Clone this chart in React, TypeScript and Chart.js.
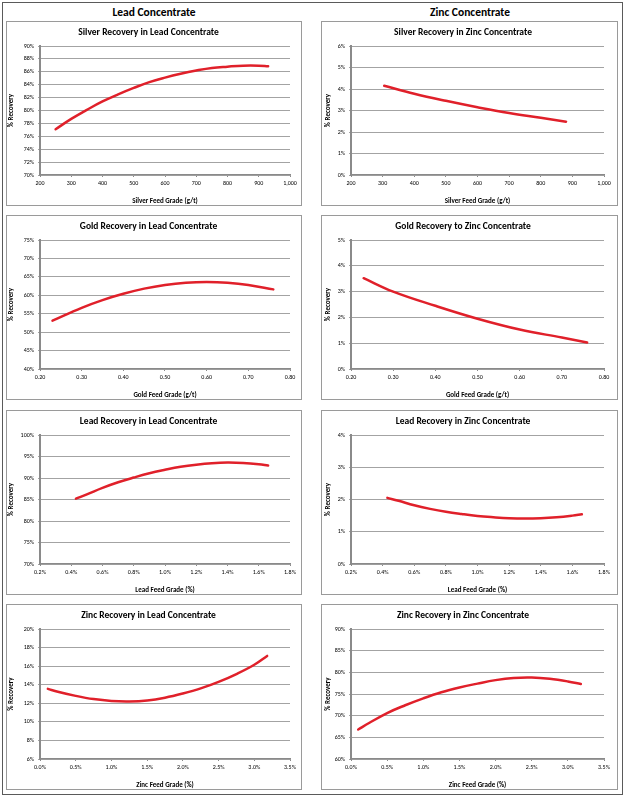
import React, { useEffect, useRef } from "react";
import { Chart, registerables } from "chart.js";

Chart.register(...registerables);

// ---------- data ----------
const silverLeadX = [250, 300, 350, 400, 450, 500, 550, 600, 650, 700, 750, 800, 850, 900, 930];
const silverLeadY = [77.1, 78.7, 80.1, 81.4, 82.5, 83.5, 84.4, 85.1, 85.7, 86.2, 86.6, 86.8, 86.95, 86.95, 86.85];

const silverZincX = [305, 400, 500, 600, 700, 800, 880];
const silverZincY = [4.15, 3.78, 3.45, 3.15, 2.88, 2.66, 2.48];

const goldLeadX = [0.23, 0.3, 0.35, 0.4, 0.45, 0.5, 0.55, 0.6, 0.65, 0.7, 0.76];
const goldLeadY = [53.1, 56.6, 58.7, 60.4, 61.8, 62.8, 63.4, 63.6, 63.4, 62.8, 61.6];

const goldZincX = [0.23, 0.3, 0.4, 0.5, 0.6, 0.7, 0.76];
const goldZincY = [3.52, 3.0, 2.45, 1.95, 1.53, 1.22, 1.03];

const leadLeadX = [0.43, 0.5, 0.6, 0.7, 0.8, 0.9, 1.0, 1.1, 1.2, 1.3, 1.4, 1.5, 1.6, 1.66];
const leadLeadY = [85.2, 86.2, 87.7, 89.0, 90.1, 91.1, 91.9, 92.6, 93.1, 93.45, 93.6, 93.5, 93.2, 92.9];

const leadZincX = [0.43, 0.5, 0.6, 0.7, 0.8, 0.9, 1.0, 1.1, 1.2, 1.3, 1.4, 1.5, 1.6, 1.66];
const leadZincY = [2.05, 1.96, 1.82, 1.71, 1.62, 1.55, 1.49, 1.45, 1.42, 1.41, 1.42, 1.45, 1.5, 1.54];

const zincLeadX = [0.11, 0.25, 0.5, 0.75, 1.0, 1.25, 1.5, 1.75, 2.0, 2.25, 2.5, 2.75, 3.0, 3.18];
const zincLeadY = [13.55, 13.25, 12.8, 12.45, 12.25, 12.2, 12.3, 12.6, 13.05, 13.6, 14.3, 15.15, 16.15, 17.1];

const zincZincX = [0.1, 0.25, 0.5, 0.75, 1.0, 1.25, 1.5, 1.75, 2.0, 2.25, 2.5, 2.75, 3.0, 3.18];
const zincZincY = [66.8, 68.3, 70.6, 72.4, 74.0, 75.4, 76.5, 77.4, 78.2, 78.7, 78.8, 78.5, 77.9, 77.3];

const columnTitles = ["Lead Concentrate", "Zinc Concentrate"];

// ---------- styling ----------
const FONT = "Carlito, Lato, 'Open Sans', sans-serif";
const RED = "#e0202a";
const GRID = "#a3a3a3";
const AXIS = "#8a8a8a";

const fmtInt = (v: number) => Number(v).toLocaleString("en-US");
const fmt2 = (v: number) => Number(v).toFixed(2);
const fmtPct1 = (v: number) => Number(v).toFixed(1) + "%";
const fmtPct = (v: number) => Math.round(Number(v)) + "%";

type PanelDef = {
  title: string;
  xTitle: string;
  xs: number[];
  ys: number[];
  xMin: number;
  xMax: number;
  xStep: number;
  yMin: number;
  yMax: number;
  yStep: number;
  xFmt: (v: number) => string;
  col: number;
  row: number;
};

const panels: PanelDef[] = [
  { title: "Silver Recovery in Lead Concentrate", xTitle: "Silver Feed Grade (g/t)", xs: silverLeadX, ys: silverLeadY, xMin: 200, xMax: 1000, xStep: 100, yMin: 70, yMax: 90, yStep: 2, xFmt: fmtInt, col: 0, row: 0 },
  { title: "Silver Recovery in Zinc Concentrate", xTitle: "Silver Feed Grade (g/t)", xs: silverZincX, ys: silverZincY, xMin: 200, xMax: 1000, xStep: 100, yMin: 0, yMax: 6, yStep: 1, xFmt: fmtInt, col: 1, row: 0 },
  { title: "Gold Recovery in Lead Concentrate", xTitle: "Gold Feed Grade (g/t)", xs: goldLeadX, ys: goldLeadY, xMin: 0.2, xMax: 0.8, xStep: 0.1, yMin: 40, yMax: 75, yStep: 5, xFmt: fmt2, col: 0, row: 1 },
  { title: "Gold Recovery to Zinc Concentrate", xTitle: "Gold Feed Grade (g/t)", xs: goldZincX, ys: goldZincY, xMin: 0.2, xMax: 0.8, xStep: 0.1, yMin: 0, yMax: 5, yStep: 1, xFmt: fmt2, col: 1, row: 1 },
  { title: "Lead Recovery in Lead Concentrate", xTitle: "Lead Feed Grade (%)", xs: leadLeadX, ys: leadLeadY, xMin: 0.2, xMax: 1.8, xStep: 0.2, yMin: 70, yMax: 100, yStep: 5, xFmt: fmtPct1, col: 0, row: 2 },
  { title: "Lead Recovery in Zinc Concentrate", xTitle: "Lead Feed Grade (%)", xs: leadZincX, ys: leadZincY, xMin: 0.2, xMax: 1.8, xStep: 0.2, yMin: 0, yMax: 4, yStep: 1, xFmt: fmtPct1, col: 1, row: 2 },
  { title: "Zinc Recovery in Lead Concentrate", xTitle: "Zinc Feed Grade (%)", xs: zincLeadX, ys: zincLeadY, xMin: 0, xMax: 3.5, xStep: 0.5, yMin: 6, yMax: 20, yStep: 2, xFmt: fmtPct1, col: 0, row: 3 },
  { title: "Zinc Recovery in Zinc Concentrate", xTitle: "Zinc Feed Grade (%)", xs: zincZincX, ys: zincZincY, xMin: 0, xMax: 3.5, xStep: 0.5, yMin: 60, yMax: 90, yStep: 5, xFmt: fmtPct1, col: 1, row: 3 },
];

// panel geometry (outer boxes)
const COL_LEFT = [6, 321];
const COL_WIDTH = [296, 297];
const ROW_TOP = [21, 215, 410, 604];
const ROW_HEIGHT = [185, 185, 185, 186];

function Panel({ def }: { def: PanelDef }) {
  const ref = useRef<HTMLCanvasElement>(null);
  const w = COL_WIDTH[def.col] - 2;
  const h = ROW_HEIGHT[def.row] - 2;
  useEffect(() => {
    const yAxisWidth = def.col === 0 ? 33 : 29;
    const padRight = def.col === 0 ? 11 : 13;
    const chart = new Chart(ref.current!, {
      type: "line",
      data: {
        datasets: [
          {
            data: def.xs.map((x, i) => ({ x, y: def.ys[i] })),
            borderColor: RED,
            borderWidth: 2.5,
            pointRadius: 0,
            tension: 0.4,
            cubicInterpolationMode: "default",
            borderCapStyle: "round",
            borderJoinStyle: "round",
            fill: false,
          },
        ],
      },
      options: {
        animation: false,
        responsive: false,
        devicePixelRatio: 1,
        layout: { padding: { left: 0, right: padRight, top: 0, bottom: 0 } },
        plugins: {
          legend: { display: false },
          tooltip: { enabled: false },
          title: {
            display: true,
            text: def.title,
            color: "#000",
            font: { family: FONT, size: 9.5, weight: "bold", lineHeight: 1.2 },
            padding: { top: 4.7, bottom: 7.9 },
          },
        },
        scales: {
          x: {
            type: "linear",
            min: def.xMin,
            max: def.xMax,
            afterFit: (s: any) => {
              s.height = 30;
            },
            ticks: {
              stepSize: def.xStep,
              autoSkip: false,
              maxRotation: 0,
              minRotation: 0,
              padding: 2.5,
              color: "#000",
              font: { family: FONT, size: 6 },
              callback: (v: any) => def.xFmt(Number(v)),
            },
            grid: { display: true, drawOnChartArea: false, drawTicks: true, tickLength: 2, color: AXIS },
            border: { display: true, color: AXIS, width: 1.2 },
            title: {
              display: true,
              text: def.xTitle,
              color: "#000",
              font: { family: FONT, size: 7, weight: "bold", lineHeight: 1.2 },
              padding: { top: 3.8, bottom: 0 },
            },
          },
          y: {
            type: "linear",
            min: def.yMin,
            max: def.yMax,
            afterFit: (s: any) => {
              s.width = yAxisWidth;
            },
            ticks: {
              stepSize: def.yStep,
              autoSkip: false,
              padding: 4,
              color: "#000",
              font: { family: FONT, size: 6 },
              callback: (v: any) => fmtPct(Number(v)),
            },
            grid: { display: true, color: GRID, lineWidth: 1, drawTicks: true, tickLength: 2 },
            border: { display: true, color: AXIS, width: 2 },
            title: {
              display: true,
              text: "% Recovery",
              color: "#000",
              font: { family: FONT, size: 7, weight: "bold", lineHeight: 1.2 },
              padding: { top: def.col === 0 ? 0.5 : 2, bottom: 0 },
            },
          },
        },
      } as any,
    });
    return () => chart.destroy();
  }, []);
  return (
    <div
      style={{
        position: "absolute",
        left: COL_LEFT[def.col],
        top: ROW_TOP[def.row],
        width: COL_WIDTH[def.col],
        height: ROW_HEIGHT[def.row],
        boxSizing: "border-box",
        border: "1px solid #9a9a9a",
        background: "#fff",
      }}
    >
      <canvas ref={ref} width={w} height={h} style={{ display: "block", width: w, height: h }} />
    </div>
  );
}

export default function App() {
  return (
    <div
      style={{
        position: "absolute",
        left: 0,
        top: 0,
        width: 630,
        height: 797,
        background: "#fff",
        fontFamily: FONT,
      }}
    >
      <div
        style={{
          position: "absolute",
          left: 2,
          top: 2,
          width: 621,
          height: 793,
          boxSizing: "border-box",
          border: "1.5px solid #5a5a5a",
        }}
      />
      {columnTitles.map((t, i) => (
        <div
          key={t}
          style={{
            position: "absolute",
            left: i === 0 ? 0 : 315,
            width: i === 0 ? 308 : 310,
            top: 4,
            height: 16,
            lineHeight: "16px",
            textAlign: "center",
            fontWeight: "bold",
            fontSize: 11.5,
            color: "#000",
          }}
        >
          {t}
        </div>
      ))}
      {panels.map((p) => (
        <Panel key={p.title} def={p} />
      ))}
    </div>
  );
}
